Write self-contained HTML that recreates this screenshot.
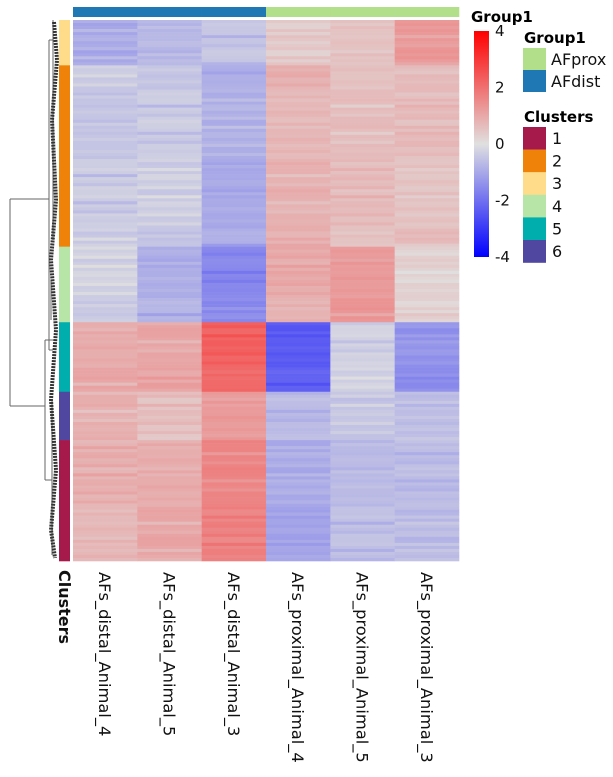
<!DOCTYPE html>
<html><head><meta charset="utf-8"><style>
body{margin:0;background:#fff;font-family:"Liberation Sans","DejaVu Sans",sans-serif}
svg text{font-family:"DejaVu Sans","Liberation Sans",sans-serif}
</style></head><body>
<svg id="chart" width="613" height="772" viewBox="0 0 613 772">
<g id="dend" stroke="#666" stroke-width="1" fill="none"></g>
<g id="clbar"></g>
<g id="topbar"></g>
<g id="cells"></g>
<g id="labels"></g>
<g id="legend"></g>
</svg>
<script>
const columns=["AFs_distal_Animal_4","AFs_distal_Animal_5","AFs_distal_Animal_3","AFs_proximal_Animal_4","AFs_proximal_Animal_5","AFs_proximal_Animal_3"];
const columnGroups=["AFdist","AFdist","AFdist","AFprox","AFprox","AFprox"];
const clusterOrder=["3","2","4","5","6","1"];
const clusterRowCounts=[15,60,25,23,16,40];
const clusterMeans={
 "3":[-1.0,-0.6,-0.5,0.3,0.6,1.2],
 "2":[-0.4,-0.4,-0.9,0.8,0.6,0.6],
 "4":[-0.3,-0.8,-1.6,0.9,1.3,0.2],
 "5":[1.0,1.0,2.2,-2.3,-0.3,-1.4],
 "6":[0.8,0.5,1.3,-0.7,-0.5,-0.5],
 "1":[0.8,1.0,1.6,-1.0,-0.6,-0.7]};
const rowTexture=[0.3,-0.4,0.1,0.6,-0.2,-0.7,0.4,0.0,-0.3,0.5,-0.5,0.2,0.7,-0.1,-0.6,0.3,0.1,-0.4,0.5,-0.2,0.0,0.4,-0.3];
const colTexture=[[1,0.5,-0.4],[-0.6,1,0.3],[0.2,-0.5,1],[0.8,0.2,-0.7],[-0.3,0.9,0.4],[0.5,-0.8,0.6]];
const scaleTicks=[4,2,0,-2,-4];
const groupColors={"AFprox":"#b2df8a","AFdist":"#1f78b4"};
const clusterColors={"1":"#a6194b","2":"#ef8208","3":"#fedc8a","4":"#b7e5a8","5":"#00aeae","6":"#5048a0"};

const NS="http://www.w3.org/2000/svg";
function el(t,a,p){const e=document.createElementNS(NS,t);for(const k in a)e.setAttribute(k,a[k]);p.appendChild(e);return e;}
const X0=73,X1=459,Y0=20,Y1=561;
const totalRows=clusterRowCounts.reduce((a,b)=>a+b,0);
const cw=(X1-X0)/columns.length, rh=(Y1-Y0)/totalRows;
const xPos=i=>X0+i*cw, yPos=r=>Y0+r*rh;
function color(v){v=Math.max(-4,Math.min(4,v));const g=[224,224,224];let t,c;
 if(v>=0){t=v/4;c=[255,0,0];}else{t=-v/4;c=[0,0,255];}
 return "rgb("+g.map((x,i)=>Math.round(x+(c[i]-x)*t)).join(",")+")";}
const cells=document.getElementById('cells'),clbar=document.getElementById('clbar');
let r=0;
clusterOrder.forEach((cl,ci)=>{
 const n=clusterRowCounts[ci];
 const s=el('rect',{x:59,y:yPos(r),width:11,height:n*rh+0.3,fill:clusterColors[cl]},clbar);
 
 
 for(let k=0;k<n;k++){
  const tx=rowTexture[(r+k)%rowTexture.length];
  for(let j=0;j<columns.length;j++){
   const v=clusterMeans[cl][j]+tx*0.5*colTexture[j][(r+k)%3];
   const c=el('rect',{x:xPos(j),y:yPos(r+k),width:cw+0.3,height:rh+0.3,fill:color(v)},cells);
   
   
  }
 }
 r+=n;
});
const topbar=document.getElementById('topbar');
columns.forEach((c,j)=>{
 const b=el('rect',{x:xPos(j),y:7,width:cw+0.3,height:10,fill:groupColors[columnGroups[j]]},topbar);
 
 
 const t=el('text',{x:0,y:0,"font-size":"16.3",fill:"#111",transform:"translate("+(xPos(j)+cw/2-6)+",572) rotate(90)"},document.getElementById('labels'));
 t.textContent=c;
 
 
});
const ct=el('text',{x:0,y:0,"font-size":"16","font-weight":"bold",fill:"#111",transform:"translate(59,570) rotate(90)"},document.getElementById('labels'));
ct.textContent="Clusters";


// dendrogram
const d=document.getElementById('dend');
const segs=[[10,199,10,406],[10,199,49,199],[10,406,45,406],[49,40,49,350],[49,40,53,40],[49,350,53,350],[53,20,53,240],[51,280,51,320],[45,340,45,480],[45,340,53,340],[45,480,52,480],[52,440,52,555],[52,400,52,440]];
segs.forEach(s=>el('line',{x1:s[0],y1:s[1],x2:s[2],y2:s[3]},d));
el('path',{d:"M54 22 L57 60 L52 120 L56 200 L51 260 L56 330 L51 400 L56 470 L51 530 L55 558",stroke:"#333","stroke-width":"4","stroke-dasharray":"2 1"},d);
// legend
const L=document.getElementById('legend');
const def=el('defs',{},L);const lg=el('linearGradient',{id:'cg',x1:0,y1:0,x2:0,y2:1},def);
[[0,'#ff0000'],[0.5,'#e0e0e0'],[1,'#0000ff']].forEach(s=>el('stop',{offset:s[0],"stop-color":s[1]},lg));
let t=el('text',{x:471,y:22,"font-size":"15","font-weight":"bold"},L);t.textContent="Group1";
el('rect',{x:474,y:31,width:15,height:226,fill:'url(#cg)'},L);
scaleTicks.forEach(v=>{const y=31+(4-v)/8*226;const tt=el('text',{x:495,y:y+5,"font-size":"15",fill:"#111"},L);tt.textContent=v;
 
 });
t=el('text',{x:524,y:43,"font-size":"15","font-weight":"bold"},L);t.textContent="Group1";
[["AFprox",48],["AFdist",70]].forEach(g=>{el('rect',{x:523,y:g[1],width:23,height:22,fill:groupColors[g[0]]},L);
 const tt=el('text',{x:551,y:g[1]+17,"font-size":"16",fill:"#111"},L);tt.textContent=g[0];
 
 });
t=el('text',{x:524,y:122,"font-size":"15","font-weight":"bold"},L);t.textContent="Clusters";
["1","2","3","4","5","6"].forEach((c,i)=>{const y=127+i*22.6;el('rect',{x:523,y:y,width:23,height:22.8,fill:clusterColors[c]},L);
 const tt=el('text',{x:552,y:y+17,"font-size":"16",fill:"#111"},L);tt.textContent=c;
 
 });
</script>
</body></html>
